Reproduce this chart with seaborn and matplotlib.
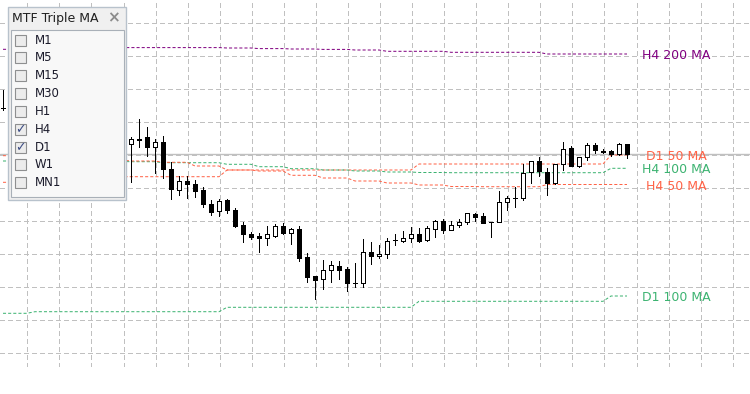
import numpy as np
import pandas as pd
import matplotlib
matplotlib.use("Agg")
import matplotlib.pyplot as plt
from matplotlib.patches import Rectangle
import seaborn as sns

# candles (price in points), bar 0 and bars 16..78 are visible
bars = [0] + list(range(16, 79))
opens = [291.7,
         255.7, 261, 262.7, 253.3, 257.7, 230.7, 209.7, 219.3, 216, 209.7, 195.7, 189, 200, 190, 175,
         166, 164, 161.7, 164.3, 174, 166.7, 170.7, 143, 124, 120.7, 129.7, 134, 131, 117, 116.7,
         147.7, 143.7, 145.7, 160, 158.7, 161.7, 166, 159.7, 171.3, 178.7, 169.7, 174.7, 177.7, 186,
         184, 177.7, 177.7, 197.7, 202.5, 202.3, 227.7, 239.3, 228.3, 217.3, 235.7, 251.7, 234,
         242.7, 255, 249.3, 249, 246, 255.7]
highs = [310,
         263.3, 281, 272.7, 261, 264.3, 238.3, 224, 224, 220, 213.3, 200, 201.5, 201, 192, 178.3,
         167.7, 166.7, 174, 176.3, 177.3, 171.7, 174, 147.3, 124, 140, 139, 139, 133.3, 137.3, 161,
         157.7, 155.3, 162.3, 166, 169, 173, 172.3, 174, 180, 180.7, 178.7, 180.7, 187.3, 187.3,
         186.7, 177.7, 209, 204.3, 213.3, 235.7, 239.3, 242.7, 231.7, 235.7, 257.8, 254.3, 243.3,
         256.7, 256.7, 251, 250, 256.7, 255.7]
lows = [290,
        218.3, 253.3, 244.3, 226.7, 221.7, 200.7, 205, 202.3, 203.3, 193.3, 185, 184.3, 186.7, 173.3, 158.3,
        161, 148.3, 155, 162.7, 165.7, 156, 139.3, 118.3, 101, 111, 118.3, 120.7, 109.3, 112.7, 113.3,
        135.7, 142.3, 142.3, 155.5, 157.7, 157.7, 157.7, 159.3, 163.3, 166.7, 169.7, 173.3, 176.3, 179.3,
        176.7, 163.3, 177.7, 190, 192.7, 200, 217.3, 224, 205, 216, 230, 234, 233.3,
        240, 247.3, 247.3, 244.3, 245, 241.7]
closes = [291.7,
          261, 260.5, 253.3, 257.7, 230.7, 210.7, 219.3, 215.7, 209.3, 195.7, 188.3, 199.5, 190, 174.3, 165.7,
          163.3, 161.7, 166, 174, 166.7, 170.7, 142.3, 123.3, 120, 129.7, 134.7, 130, 116.7, 117, 147.7,
          143.7, 146, 158.7, 160, 161.7, 165.7, 159.3, 171.7, 178.7, 169.7, 175, 177.7, 186.7, 183.3,
          176.7, 177.7, 197.7, 201.7, 202.3, 227.3, 239.3, 228.7, 217.3, 235.7, 251.5, 234, 242.7,
          255, 250, 248, 245.7, 255.7, 246]

# moving averages: one value per H4 block (4 bars) and per D1 block
h4_50 = [244.3, 243, 241.5, 240, 239, 237.7, 234, 230, 229, 224.7, 222, 219, 217, 215, 213.5,
         213.3, 213.3, 215.5, 215.5, 215.5]
h4_100 = [239, 239, 238.7, 238.5, 238.3, 237.3, 237.3, 235.7, 233.3, 231.3, 230, 229, 228, 227.5,
          227.3, 227.3, 227.3, 227.3, 227.3, 231.7]
h4_200 = [350.7, 351.4, 352, 352.4, 352.4, 352.4, 352.4, 352, 351.4, 351, 350.6, 350, 348.7, 348.7,
          347.7, 347.7, 347.7, 346, 346, 346]
d1_50 = [217.7, 223.3, 230, 236, 245]
d1_100 = [86.7, 88.3, 92.7, 98.7, 104]
d1_bars = [4, 24, 24, 24, 3]

ma_names = ["H4 200 MA", "D1 50 MA", "H4 100 MA", "H4 50 MA", "D1 100 MA"]
ma_colors = ["#800080", "#ff6347", "#3cb371", "#ff6347", "#3cb371"]

timeframes = ["M1", "M5", "M15", "M30", "H1", "H4", "D1", "W1", "MN1"]
checked = ["H4", "D1"]

n_bars = 79
W, H = 750, 394

sns.set_style("white")
plt.rcParams["font.family"] = ["DejaVu Sans"]
plt.rcParams["lines.scale_dashes"] = False

fig = plt.figure(figsize=(W / 100, H / 100), dpi=100)
ax = fig.add_axes([0, 27 / H, 1, 367 / H])
ax.set_xlim(-3 / 8, (W - 3) / 8)
ax.set_ylim(400 - 367, 400)

# grid like the terminal
px = 0.72
ax.set_xticks(np.arange(3.04, 93, 4.008))
ax.set_yticks(np.arange(47, 400, 33))
ax.grid(True, color="#c0c0c0", lw=px, linestyle=(0, (2.9, 2.2)), antialiased=False)
ax.tick_params(length=0, labelbottom=False, labelleft=False)
for s in ax.spines.values():
    s.set_visible(False)

# current price line
ax.axhline(closes[-1], color="#c0c0c0", lw=1.0, zorder=1)

# MA lines
idx = np.arange(n_bars)
series = {
    "H4 200 MA": np.repeat(h4_200, 4)[:n_bars],
    "D1 50 MA": np.repeat(d1_50, d1_bars),
    "H4 100 MA": np.repeat(h4_100, 4)[:n_bars],
    "H4 50 MA": np.repeat(h4_50, 4)[:n_bars],
    "D1 100 MA": np.repeat(d1_100, d1_bars),
}
df = pd.concat([pd.DataFrame({"bar": idx, "value": v, "name": k}) for k, v in series.items()])
sns.lineplot(data=df, x="bar", y="value", hue="name", style="name",
             palette=dict(zip(ma_names, ma_colors)),
             dashes={k: (2.2, 1.5) for k in ma_names},
             lw=px, legend=False, ax=ax, zorder=2)
ax.set_xlabel("")
ax.set_ylabel("")

for name, col in zip(ma_names, ma_colors):
    label = name if len(name) == 9 else " " + name
    ax.text(n_bars - 1 + 1.9, series[name][-1] - 1.5, label, color=col, fontsize=9,
            ha="left", va="center")

# candles
o = np.array(opens); c = np.array(closes)
ax.vlines(bars, lows, highs, color="black", lw=px, zorder=3, antialiased=False)
up = c >= o
ax.bar(np.array(bars)[up], (c - o)[up], bottom=o[up], width=0.5,
       facecolor="white", edgecolor="black", lw=px, zorder=4, antialiased=False)
ax.bar(np.array(bars)[~up], (c - o)[~up], bottom=o[~up], width=0.5,
       facecolor="black", edgecolor="black", lw=px, zorder=4, antialiased=False)

# settings panel on top
ov = fig.add_axes([0, 0, 1, 1], zorder=10)
ov.set_xlim(0, W)
ov.set_ylim(H, 0)
ov.axis("off")
ov.patch.set_alpha(0)
ov.add_patch(Rectangle((7.5, 7), 118.5, 193, facecolor="#f0f0f0", edgecolor="#b8c2cc", lw=1))
ov.add_patch(Rectangle((10.5, 29.5), 113.5, 167.5, facecolor="#f8f8f8", edgecolor="#a9b0b8", lw=0.8))
ov.text(12, 18.5, "MTF Triple MA", fontsize=9, color="#202020", va="center", ha="left")
ov.text(113, 18, "\u00d7", fontsize=11, color="#8c8c8c", va="center", ha="center", fontweight="bold")
for k, tf in enumerate(timeframes):
    yc = 40 + 17.85 * k
    ov.add_patch(Rectangle((15, yc - 5.5), 11, 11, facecolor="#ececec", edgecolor="#8e8f90", lw=0.8))
    if tf in checked:
        ov.text(20.5, yc + 0.5, "\u2713", fontsize=9, color="#3d4d85", va="center", ha="center")
    ov.text(35, yc, tf, fontsize=8.5, color="#1c1c2c", va="center", ha="left")

fig.savefig("out.png", dpi=100)
